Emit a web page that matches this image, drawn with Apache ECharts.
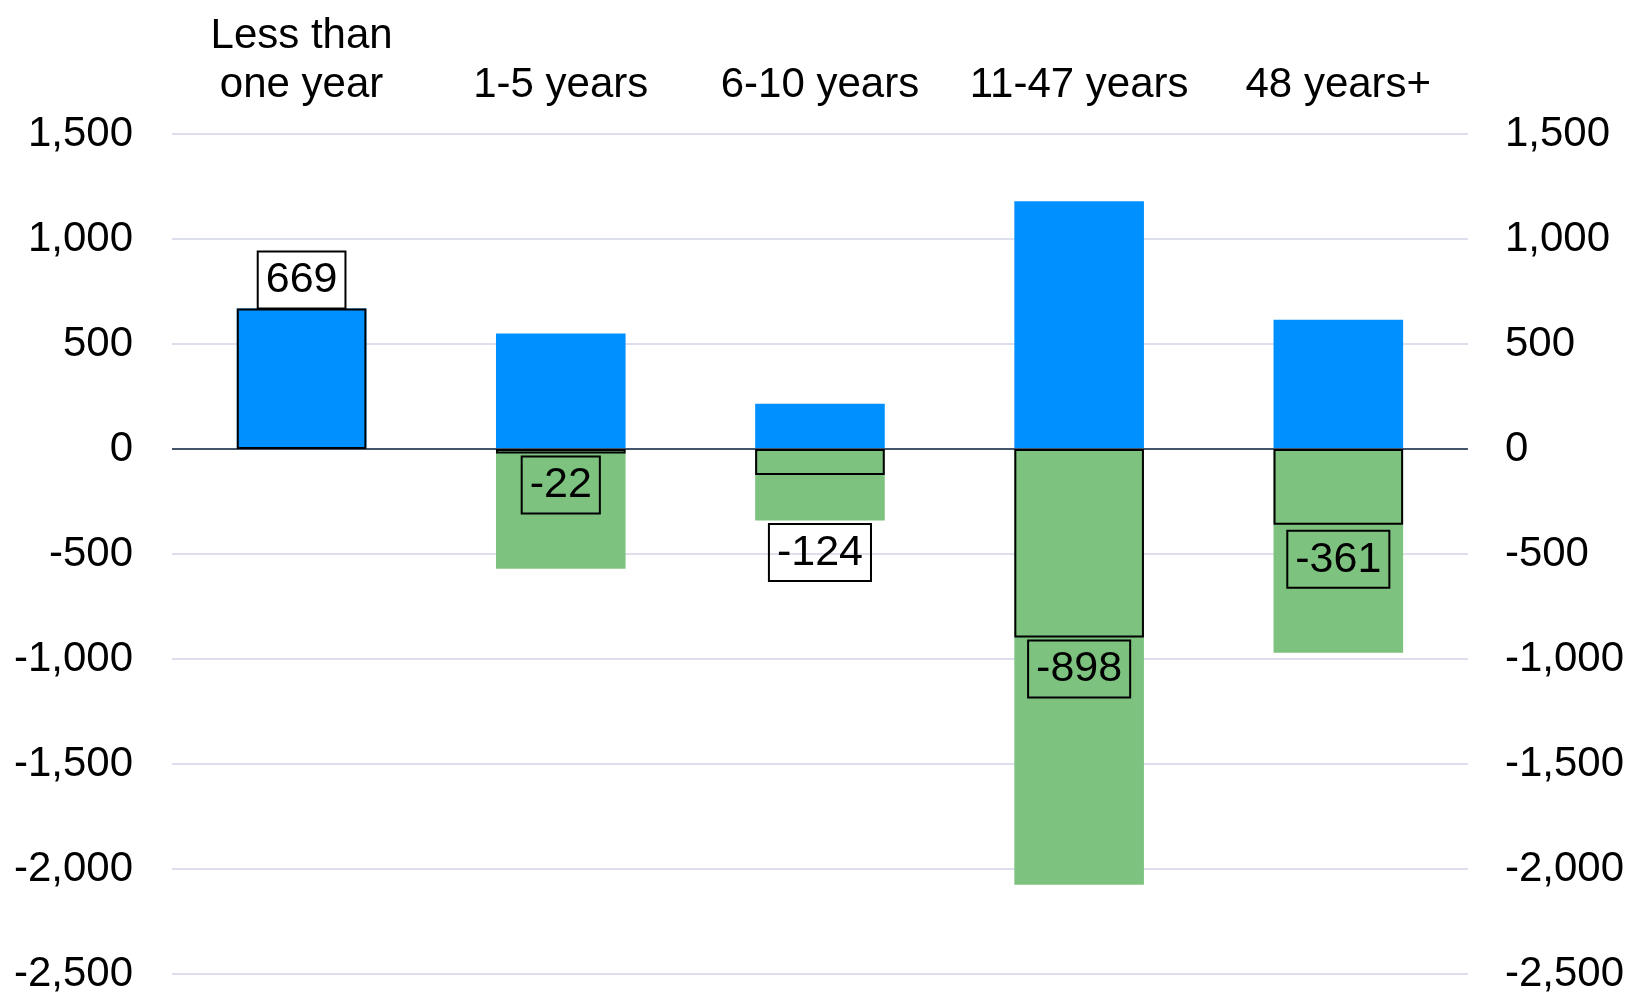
<!DOCTYPE html>
<html>
<head>
<meta charset="utf-8">
<script src="https://cdn.jsdelivr.net/npm/echarts@6/dist/echarts.min.js"></script>
<style>
html,body{margin:0;padding:0;background:#fff;}
#chart{width:1627px;height:1001px;}
</style>
</head>
<body>
<div id="chart"></div>
<script>
const categories = ['Less than\none year', '1-5 years', '6-10 years', '11-47 years', '48 years+'];
const inflows = [669, 550, 215, 1180, 615];
const outflows = [0, -570, -340, -2075, -970];
const netValues = [669, -22, -124, -898, -361];
const yTicks = { min: -2500, max: 1500, interval: 500 };

const FONT = '"Liberation Sans", Arial, sans-serif';
const chart = echarts.init(document.getElementById('chart'));

const netData = netValues.map(function (v, i) {
  const lbl = { position: v >= 0 ? 'top' : 'bottom', distance: v >= 0 ? 0 : 3 };
  // the -124 label sits below the outflow bar in the original
  if (i === 2) { lbl.offset = [0, 46]; }
  if (i === 4) { lbl.distance = 6; }
  return { value: v, label: lbl };
});

const axisLabelStyle = { fontFamily: FONT, fontSize: 42, color: '#000' };

chart.setOption({
  animation: false,
  backgroundColor: '#fff',
  grid: { left: 172, right: 159, top: 134, bottom: 27 },
  xAxis: {
    type: 'category',
    position: 'top',
    data: categories,
    axisLine: { show: false, onZero: false },
    axisTick: { show: false },
    axisLabel: Object.assign({ margin: 24, lineHeight: 49, interval: 0 }, axisLabelStyle),
    splitLine: { show: false }
  },
  yAxis: [
    {
      type: 'value', position: 'left',
      min: yTicks.min, max: yTicks.max, interval: yTicks.interval,
      axisLine: { show: false }, axisTick: { show: false },
      axisLabel: Object.assign({ margin: 39, padding: [6, 0, 0, 0] }, axisLabelStyle),
      splitLine: { show: true, lineStyle: { color: '#dde0ec', width: 2 } }
    },
    {
      type: 'value', position: 'right',
      min: yTicks.min, max: yTicks.max, interval: yTicks.interval,
      axisLine: { show: false }, axisTick: { show: false },
      axisLabel: Object.assign({ margin: 37, padding: [6, 0, 0, 0] }, axisLabelStyle),
      splitLine: { show: false }
    }
  ],
  series: [
    {
      name: 'Inflows', type: 'bar', data: inflows,
      barWidth: '50%', barGap: '-100%',
      itemStyle: { color: '#0090ff' },
      z: 2
    },
    {
      name: 'Outflows', type: 'bar', data: outflows,
      barWidth: '50%', barGap: '-100%',
      itemStyle: { color: '#7dc37f' },
      z: 2,
      markLine: {
        silent: true, symbol: 'none',
        label: { show: false },
        lineStyle: { color: '#44546a', width: 2, type: 'solid' },
        data: [{ yAxis: 0 }],
        z: 3
      }
    },
    {
      name: 'Net', type: 'bar', data: netData,
      barWidth: '50%', barGap: '-100%',
      itemStyle: { color: 'rgba(0,0,0,0)', borderColor: '#000', borderWidth: 2 },
      z: 4,
      label: {
        show: true,
        fontFamily: FONT, fontSize: 43, color: '#000',
        lineHeight: 48,
        borderColor: '#000', borderWidth: 2,
        padding: [5, 8, 4, 8],
        formatter: function (p) { return String(p.value); }
      }
    }
  ]
});
</script>
</body>
</html>
